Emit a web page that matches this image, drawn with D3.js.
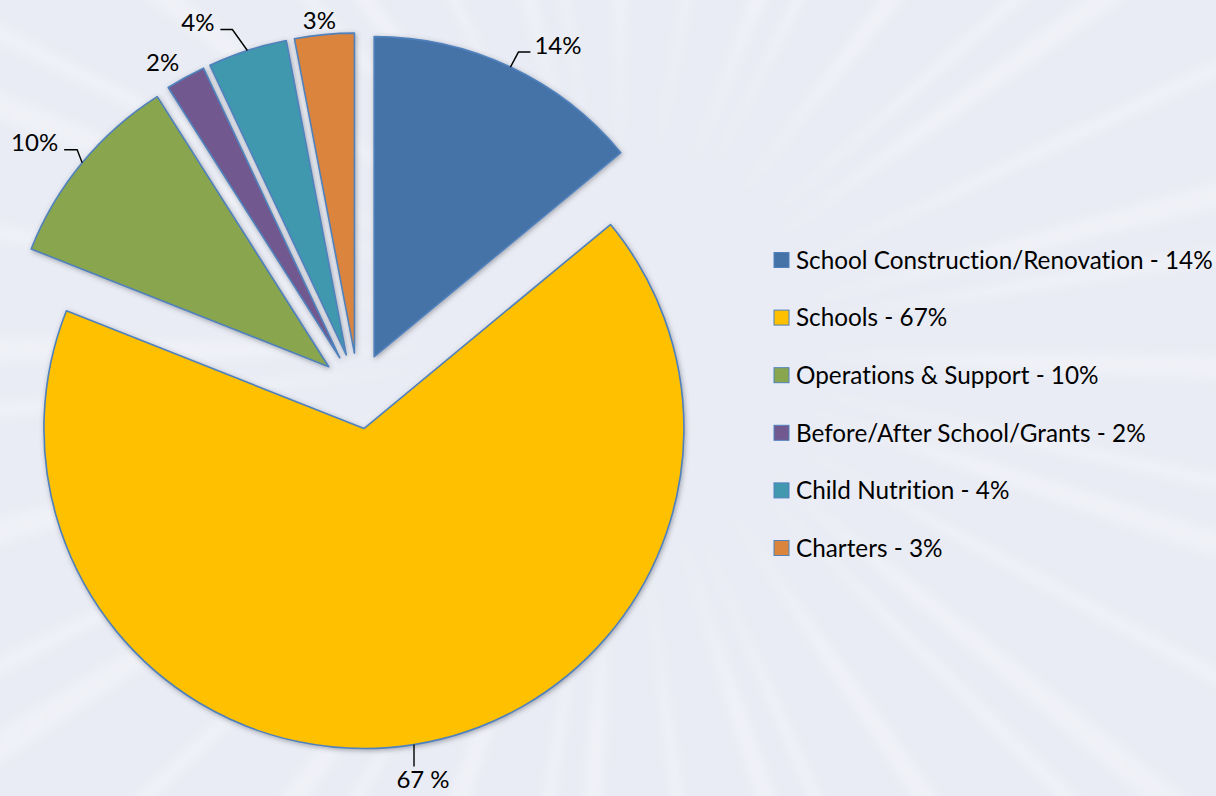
<!DOCTYPE html>
<html>
<head>
<meta charset="utf-8">
<script src="https://cdn.jsdelivr.net/npm/d3@7"></script>
<style>
  html, body { margin: 0; padding: 0; background: #e9ecf4; }
  svg { display: block; }
  text { font-family: Lato, "Open Sans", sans-serif; fill: #000; font-variant-ligatures: none; }
</style>
</head>
<body>
<svg id="chart" width="1216" height="796"></svg>
<script>
// Budget shares by area
const categories = [
  "School Construction/Renovation",
  "Schools",
  "Operations & Support",
  "Before/After School/Grants",
  "Child Nutrition",
  "Charters"
];
const values = [14, 67, 10, 2, 4, 3];
const valueLabels = ["14%", "67 %", "10%", "2%", "4%", "3%"];
const legendLabels = [
  "School Construction/Renovation - 14%",
  "Schools - 67%",
  "Operations & Support - 10%",
  "Before/After School/Grants - 2%",
  "Child Nutrition - 4%",
  "Charters - 3%"
];
const colors = ["#4572a7", "#ffc000", "#89a54e", "#71588f", "#4198af", "#db843d"];

const W = 1216, H = 796;
const cx = 358, cy = 391, R = 320, EXPLODE = 38;

const svg = d3.select("#chart");
const defs = svg.append("defs");

// ---- background sunburst ----
svg.append("rect").attr("width", W).attr("height", H).attr("fill", "#e9ecf4");

defs.append("filter").attr("id", "rayBlur")
  .attr("x", "-20%").attr("y", "-20%").attr("width", "140%").attr("height", "140%")
  .append("feGaussianBlur").attr("stdDeviation", 4.5);

// gradient centred on the ray group's origin so rays fade in away from the hub
const rayGrad = defs.append("radialGradient").attr("id", "rayGrad")
  .attr("gradientUnits", "userSpaceOnUse")
  .attr("cx", 0).attr("cy", 0).attr("r", 900);
rayGrad.append("stop").attr("offset", "0.2").attr("stop-color", "#ffffff").attr("stop-opacity", 0);
rayGrad.append("stop").attr("offset", "0.42").attr("stop-color", "#ffffff").attr("stop-opacity", 0.3);
rayGrad.append("stop").attr("offset", "1").attr("stop-color", "#ffffff").attr("stop-opacity", 0.22);

const rayCx = 620, rayCy = 350;
const rayCount = 40;
const rays = d3.range(rayCount).map(i => {
  const a = (i / rayCount) * 2 * Math.PI + (i % 3) * 0.03;
  const w = (i % 2 === 0 ? 0.02 : 0.012);
  return [a - w, a + w];
});
const rayArc = d3.arc().innerRadius(160).outerRadius(1100);
svg.append("g")
  .attr("transform", `translate(${rayCx},${rayCy})`)
  .attr("filter", "url(#rayBlur)")
  .selectAll("path").data(rays).join("path")
  .attr("d", d => rayArc({startAngle: d[0], endAngle: d[1]}))
  .attr("fill", "url(#rayGrad)");

// ---- pie ----
const shadow = defs.append("filter").attr("id", "sliceShadow")
  .attr("x", "-20%").attr("y", "-20%").attr("width", "140%").attr("height", "140%");
shadow.append("feDropShadow")
  .attr("dx", 1).attr("dy", 1.5).attr("stdDeviation", 2.6)
  .attr("flood-color", "#4a4a55").attr("flood-opacity", 0.45);

const pie = d3.pie().sort(null).value(d => d).startAngle(0).endAngle(2 * Math.PI);
const arcs = pie(values);
const arc = d3.arc().innerRadius(0).outerRadius(R);

const dirOf = d => {
  const m = (d.startAngle + d.endAngle) / 2;
  return [Math.sin(m), -Math.cos(m)];
};

const pieG = svg.append("g").attr("transform", `translate(${cx},${cy})`);
pieG.selectAll("path.slice").data(arcs).join("path")
  .attr("class", "slice")
  .attr("transform", d => {
    const [dx, dy] = dirOf(d);
    return `translate(${dx * EXPLODE},${dy * EXPLODE})`;
  })
  .attr("d", arc)
  .attr("fill", (d, i) => colors[i])
  .attr("stroke", "#4f81bd")
  .attr("stroke-width", 1.6)
  .attr("stroke-linejoin", "round")
  .attr("filter", "url(#sliceShadow)");

// ---- data labels with leader lines ----
// elbow: offset from slice's outer arc midpoint; leg: horizontal run (signed)
const labelLayout = [
  {elbow: [8, -15], leg: 12, leader: true},
  {elbow: [0, 22], leg: 0, leader: true, below: true},
  {elbow: [-5, -13], leg: -13, leader: true},
  {elbow: [-23, -15], leg: 0, leader: false},
  {elbow: [-15, -21], leg: -12, leader: true},
  {elbow: [-5, -14], leg: 0, leader: false}
];
const labelFont = 24;
const labelG = svg.append("g").attr("transform", `translate(${cx},${cy})`);
arcs.forEach((d, i) => {
  const [ux, uy] = dirOf(d);
  const mx = ux * (R + EXPLODE), my = uy * (R + EXPLODE);
  const L = labelLayout[i];
  const ex = mx + L.elbow[0], ey = my + L.elbow[1];
  if (L.leader) {
    labelG.append("path")
      .attr("d", d3.line()([[mx, my], [ex, ey], [ex + L.leg, ey]]))
      .attr("fill", "none").attr("stroke", "#000").attr("stroke-width", 1.4);
  }
  const t = labelG.append("text").text(valueLabels[i]).style("font-size", labelFont + "px");
  if (L.below) {
    t.attr("x", ex + 9).attr("y", ey + 21).attr("text-anchor", "middle");
  } else if (!L.leader) {
    t.attr("x", ex).attr("y", ey).attr("dy", "0.36em").attr("text-anchor", "middle");
  } else if (L.leg > 0) {
    t.attr("x", ex + L.leg + 4).attr("y", ey - 7).attr("dy", "0.36em").attr("text-anchor", "start");
  } else {
    t.attr("x", ex + L.leg - 6).attr("y", ey - 7).attr("dy", "0.36em").attr("text-anchor", "end");
  }
});

// ---- legend ----
const legendY = d3.scalePoint().domain(categories).range([260, 548]);
const legend = svg.append("g");
const rows = legend.selectAll("g").data(categories).join("g")
  .attr("transform", d => `translate(774,${legendY(d)})`);
rows.append("rect")
  .attr("x", 0).attr("y", -7.5).attr("width", 15).attr("height", 15)
  .attr("fill", (d, i) => colors[i])
  .attr("stroke", "#4f81bd").attr("stroke-width", 1);
rows.append("text")
  .attr("x", 22).attr("y", 0).attr("dy", "0.36em")
  .style("font-size", "24.3px")
  .text((d, i) => legendLabels[i]);
</script>
</body>
</html>
